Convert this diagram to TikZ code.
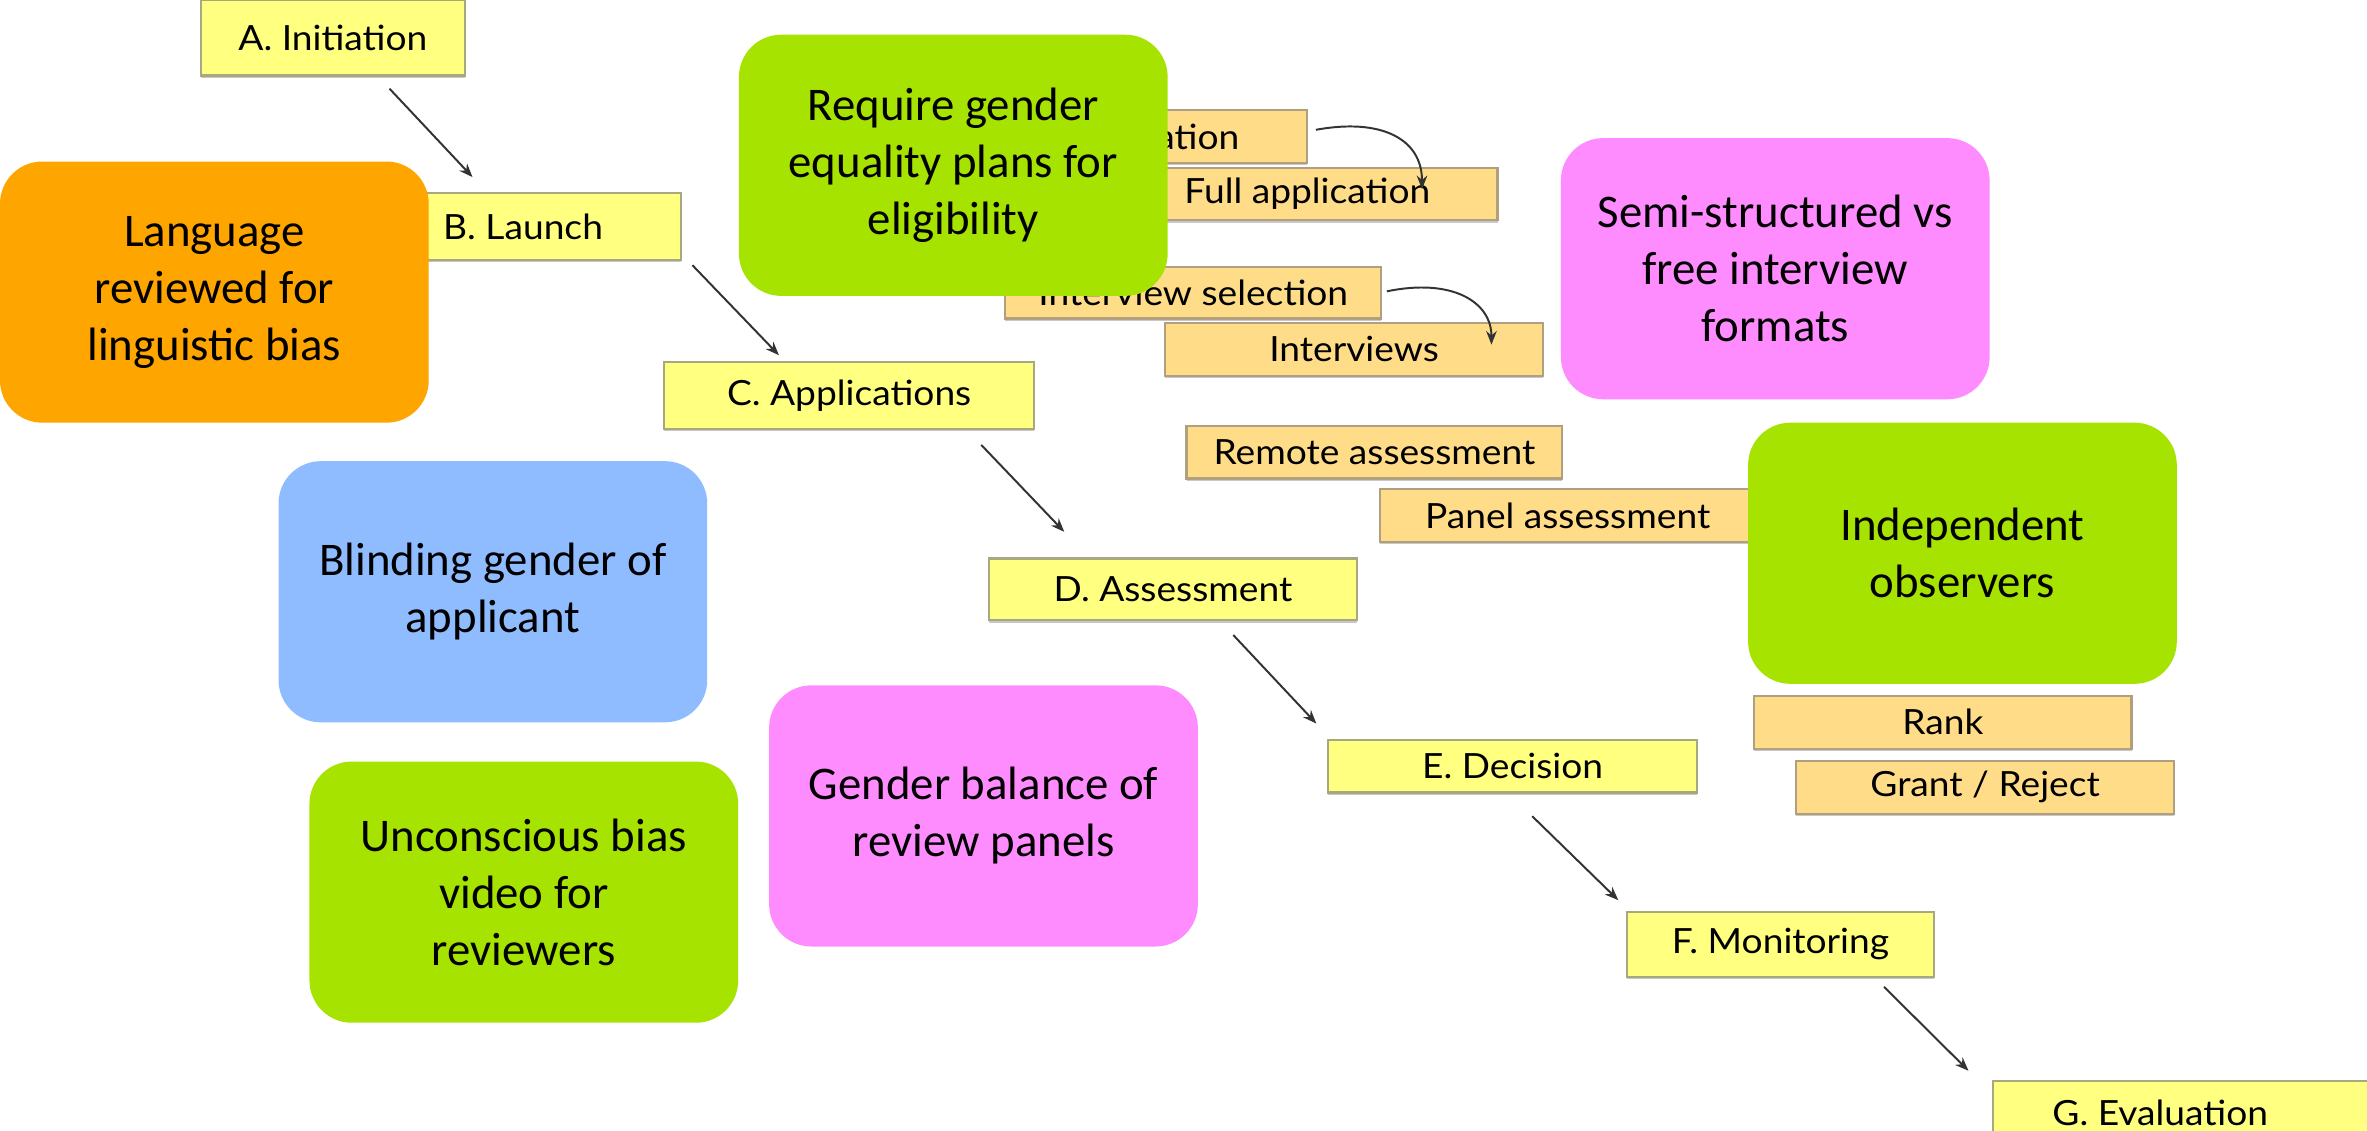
\documentclass[tikz,border=0pt]{standalone}
\usepackage{fontspec}
\setmainfont{Carlito}
\newfontfamily\boxfont{Lato}[FakeStretch=1.07]
\usetikzlibrary{arrows.meta,calc,shadows}
\definecolor{stepfill}{HTML}{FFFF80}
\definecolor{stepdraw}{HTML}{A8A880}
\definecolor{subfill}{HTML}{FFDD88}
\definecolor{subdraw}{HTML}{B0A080}
\definecolor{corange}{HTML}{FFA500}
\definecolor{cgreen}{HTML}{A6E300}
\definecolor{cpink}{HTML}{FF8CFF}
\definecolor{cblue}{HTML}{8FBCFF}
\definecolor{arrcol}{HTML}{333333}
\begin{document}
\begin{tikzpicture}[x=0.5pt,y=-0.5pt,
  boxshadow/.style={drop shadow={shadow xshift=0pt, shadow yshift=-0.7pt, fill=black, opacity=0.22}},
  stepbox/.style={draw=stepdraw, fill=stepfill, line width=0.7pt, inner sep=0pt, boxshadow,
    font=\boxfont\fontsize{11.5}{13}\selectfont},
  subbox/.style={draw=subdraw, fill=subfill, line width=0.7pt, inner sep=0pt, boxshadow,
    minimum height=17.5pt, font=\boxfont\fontsize{11.5}{13}\selectfont},
  callout/.style={rounded corners=14pt, inner sep=0pt, align=center,
    minimum width=142pt, minimum height=86.5pt,
    font=\fontsize{15.5}{18.9}\selectfont},
  flow/.style={draw=arrcol, line width=0.65pt, -{Stealth[length=4.5pt,width=3.5pt]}}]
\path[use as bounding box] (0,0) rectangle (1568,749);
\clip (0,0) rectangle (1568,749);
\fill[white] (0,0) rectangle (1568,749);

% main process steps
\node[stepbox, minimum width=87.5pt, minimum height=25pt] (A) at (220.5,25) {A. Initiation};
\node[stepbox, minimum width=104.5pt, minimum height=22pt] (B) at (346.5,150) {B. Launch};
\node[stepbox, minimum width=122.5pt, minimum height=22pt] (C) at (562.5,262) {C. Applications};
\node[stepbox, minimum width=122pt, minimum height=20.5pt] (D) at (777,390.5) {D. Assessment};
\node[stepbox, minimum width=122pt, minimum height=17.5pt] (E) at (1002,507.5) {E. Decision};
\node[stepbox, minimum width=101.5pt, minimum height=21.5pt] (F) at (1179.5,625.5) {F. Monitoring};
\node[stepbox, minimum width=127.5pt, minimum height=21.5pt] (G) at (1447.5,737.5) {G. Evaluation\hspace*{16.5pt}};

% sub steps
\node[subbox, minimum width=90.5pt] (pre) at (775.5,90.5) {\makebox[68pt][r]{ation}\hspace*{22.5pt}};
\node[subbox, minimum width=126pt] (full) at (866,128.5) {Full application};
\node[subbox, minimum width=124.5pt, minimum height=17pt] (isel) at (790.5,194) {Interview selection};
\node[subbox, minimum width=125pt] (iview) at (897,231.5) {Interviews};
\node[subbox, minimum width=124.5pt] (remote) at (910.5,299.5) {Remote assessment};
\node[subbox, minimum width=124.5pt] (panel) at (1038.5,341.5) {Panel assessment};
\node[subbox, minimum width=125pt] (rank) at (1287,478.5) {Rank};
\node[subbox, minimum width=125pt] (grant) at (1315,521.5) {Grant / Reject};

% connectors
\draw[flow] ($(A.south)+(37.5,8)$) -- ($(B.north)+(-33.5,-10)$);
\draw[flow] ($(B.south east)+(7,3)$) -- ($(C.north)+(-46.5,-4)$);
\draw[flow] ($(C.south)+(87.5,10)$) -- ($(D.north)+(-72,-17)$);
\draw[flow] ($(D.south)+(40,9)$) -- ($(E.north)+(-130,-10)$);
\draw[flow] ($(E.south)+(13,15)$) -- ($(F.north)+(-107.5,-7)$);
\draw[flow] ($(F.south)+(68.5,6)$) -- ($(G.north)+(-143.5,-6)$);
\draw[flow] ($(pre.east)+(5,-4.5)$) .. controls (915,78) and (942,92) .. ($(full.north)+(76,15)$);
\draw[flow] ($(isel.east)+(3,-1)$) .. controls (962,184) and (988,200) .. ($(iview.north)+(91,15)$);

% callouts
\node[callout, fill=corange] (lang) at (142,193.5) {Language\\reviewed for\\linguistic bias};
\node[callout, fill=cgreen] (req) at (631.5,109.5) {Require gender\\equality plans for\\eligibility};
\node[callout, fill=cpink] (semi) at (1176,178) {Semi-structured vs\\free interview\\formats};
\node[callout, fill=cgreen] (indep) at (1300,366.5) {Independent\\observers};
\node[callout, fill=cblue] (blind) at (326.5,392) {Blinding gender of\\applicant};
\node[callout, fill=cpink] (gbal) at (651.5,540.5) {Gender balance of\\review panels};
\node[callout, fill=cgreen] (unc) at (347,591) {Unconscious bias\\video for\\reviewers};
\end{tikzpicture}
\end{document}
